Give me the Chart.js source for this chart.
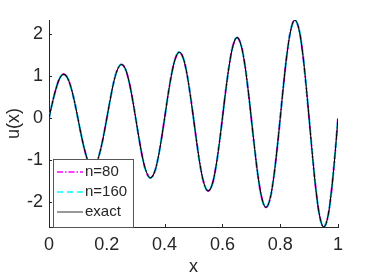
<!DOCTYPE html>
<html>
<head>
<meta charset="utf-8">
<script src="https://cdn.jsdelivr.net/npm/chart.js@4"></script>
<style>
  html, body { margin: 0; padding: 0; background: #fff; }
  #wrap { width: 374px; height: 280px; }
</style>
</head>
<body>
<div id="wrap"><canvas id="uPlot"></canvas></div>
<script>
// ---- data ----
const xGrid = [
  0, 0.0125, 0.025, 0.0375, 0.05, 0.0625, 0.075, 0.0875, 0.1,
  0.1125, 0.125, 0.1375, 0.15, 0.1625, 0.175, 0.1875, 0.2,
  0.2125, 0.225, 0.2375, 0.25, 0.2625, 0.275, 0.2875, 0.3,
  0.3125, 0.325, 0.3375, 0.35, 0.3625, 0.375, 0.3875, 0.4,
  0.4125, 0.425, 0.4375, 0.45, 0.4625, 0.475, 0.4875, 0.5,
  0.5125, 0.525, 0.5375, 0.55, 0.5625, 0.575, 0.5875, 0.6,
  0.6125, 0.625, 0.6375, 0.65, 0.6625, 0.675, 0.6875, 0.7,
  0.7125, 0.725, 0.7375, 0.75, 0.7625, 0.775, 0.7875, 0.8,
  0.8125, 0.825, 0.8375, 0.85, 0.8625, 0.875, 0.8875, 0.9,
  0.9125, 0.925, 0.9375, 0.95, 0.9625, 0.975, 0.9875, 1
];
const uExact = [
  0, 0.39, 0.72, 0.96, 1.05, 0.98, 0.76, 0.42, 0,
  -0.43, -0.80, -1.06, -1.16, -1.09, -0.84, -0.46, 0,
  0.47, 0.89, 1.17, 1.28, 1.20, 0.93, 0.51, 0,
  -0.52, -0.98, -1.29, -1.42, -1.33, -1.03, -0.56, 0,
  0.58, 1.08, 1.43, 1.57, 1.47, 1.14, 0.62, 0,
  -0.64, -1.20, -1.58, -1.73, -1.62, -1.26, -0.69, 0,
  0.71, 1.32, 1.75, 1.92, 1.79, 1.39, 0.76, 0,
  -0.78, -1.46, -1.93, -2.12, -1.98, -1.53, -0.84, 0,
  0.86, 1.61, 2.13, 2.34, 2.19, 1.70, 0.93, 0,
  -0.95, -1.78, -2.36, -2.59, -2.42, -1.87, -1.03, 0
];
// the two numerical solutions lie on top of the exact curve
const uN160 = uExact.slice();
const uN80 = uExact.slice();

const xTicks = [0, 0.2, 0.4, 0.6, 0.8, 1];
const yTicks = [-2, -1, 0, 1, 2];

const AXIS_COLOR = '#262626';
const FONT = 'Liberation Sans, Arial, Helvetica, sans-serif';

const seriesStyle = [
  { label: 'n=80',  data: uN80,   color: '#ff00ff', width: 2,   dash: [6, 2, 1.5, 2], order: 2 },
  { label: 'n=160', data: uN160,  color: '#00ffff', width: 2,   dash: [6, 4],         order: 1 },
  { label: 'exact', data: uExact, color: '#000000', width: 1.1, dash: [],             order: 0 },
];

const pts = arr => xGrid.map((x, i) => ({ x, y: arr[i] }));

// ---- inward ticks + legend box in the lower-left corner ----
const matlabDecor = {
  id: 'matlabDecor',
  afterDraw(chart) {
    const { ctx, chartArea: a, scales: { x, y } } = chart;
    ctx.save();
    ctx.strokeStyle = AXIS_COLOR;
    ctx.lineWidth = 1;
    ctx.beginPath();
    xTicks.forEach(v => {
      const px = Math.round(x.getPixelForValue(v)) + 0.5;
      ctx.moveTo(px, a.bottom);
      ctx.lineTo(px, a.bottom - 3);
    });
    yTicks.forEach(v => {
      const py = Math.round(y.getPixelForValue(v)) + 0.5;
      ctx.moveTo(a.left, py);
      ctx.lineTo(a.left + 3, py);
    });
    ctx.stroke();

    // legend
    const bx = a.left + 4, by = 159, bw = 80, bh = a.bottom - by;
    ctx.fillStyle = '#fff';
    ctx.fillRect(bx, by, bw, bh);
    ctx.strokeStyle = '#555';
    ctx.strokeRect(bx + 0.5, by + 0.5, bw, bh);
    ctx.font = '15px ' + FONT;
    ctx.textBaseline = 'middle';
    seriesStyle.forEach((s, i) => {
      const ly = by + 13 + i * 20;
      ctx.strokeStyle = s.color === '#000000' ? '#333' : s.color;
      ctx.lineWidth = s.color === '#000000' ? 1 : 1.5;
      ctx.setLineDash(s.dash);
      ctx.beginPath();
      ctx.moveTo(bx + 4, ly);
      ctx.lineTo(bx + 30, ly);
      ctx.stroke();
      ctx.setLineDash([]);
      ctx.fillStyle = AXIS_COLOR;
      ctx.fillText(s.label, bx + 32, ly);
    });
    ctx.restore();
  }
};

new Chart(document.getElementById('uPlot'), {
  type: 'line',
  data: {
    datasets: seriesStyle.map(s => ({
      label: s.label,
      data: pts(s.data),
      borderColor: s.color,
      borderWidth: s.width,
      borderDash: s.dash,
      pointRadius: 0,
      tension: 0.4,
      fill: false,
      order: s.order,
    }))
  },
  options: {
    responsive: true,
    maintainAspectRatio: false,
    animation: false,
    layout: { padding: { top: 20, right: 36, left: 0, bottom: 0 } },
    plugins: { legend: { display: false }, tooltip: { enabled: false } },
    scales: {
      x: {
        type: 'linear',
        min: 0, max: 1,
        afterFit: s => { s.height = 53; },
        afterBuildTicks: s => { s.ticks = xTicks.map(v => ({ value: v })); },
        grid: { drawOnChartArea: false, drawTicks: false },
        border: { color: AXIS_COLOR, width: 1 },
        ticks: {
          padding: 7,
          color: AXIS_COLOR,
          font: { family: FONT, size: 18 },
          maxRotation: 0,
          callback: v => String(v)
        },
        title: {
          display: true, text: 'x', color: AXIS_COLOR,
          font: { family: FONT, size: 18 },
          padding: { top: 0, bottom: 2 }
        }
      },
      y: {
        min: -2.59, max: 2.34,
        afterFit: s => { s.width = 49; },
        afterBuildTicks: s => { s.ticks = yTicks.map(v => ({ value: v })); },
        grid: { drawOnChartArea: false, drawTicks: false },
        border: { color: AXIS_COLOR, width: 1 },
        ticks: {
          padding: 6,
          color: AXIS_COLOR,
          font: { family: FONT, size: 18 },
          callback: v => String(v)
        },
        title: {
          display: true, text: 'u(x)', color: AXIS_COLOR,
          font: { family: FONT, size: 18 },
          padding: { top: 3, bottom: 0 }
        }
      }
    }
  },
  plugins: [matlabDecor]
});
</script>
</body>
</html>
